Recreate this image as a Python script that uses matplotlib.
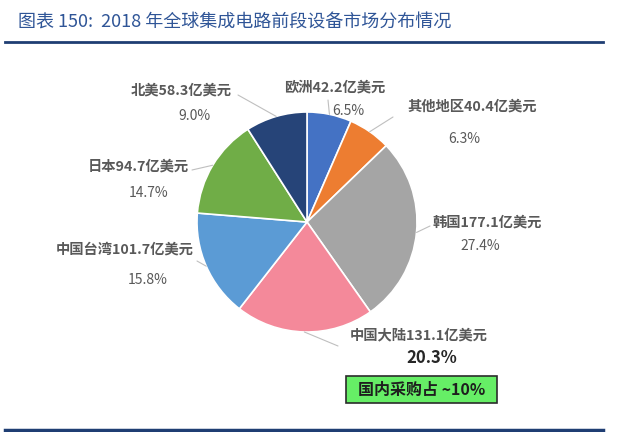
import matplotlib
matplotlib.use('Agg')
import matplotlib.pyplot as plt
import numpy as np
from matplotlib.patches import Rectangle
from matplotlib.lines import Line2D

plt.rcParams['font.family'] = ['Noto Sans CJK SC', 'DejaVu Sans']

# ---- data ----
regions = ['欧洲', '其他地区', '韩国', '中国大陆', '中国台湾', '日本', '北美']
values = [42.2, 40.4, 177.1, 131.1, 101.7, 94.7, 58.3]
percents = ['6.5%', '6.3%', '27.4%', '20.3%', '15.8%', '14.7%', '9.0%']
unit = '亿美元'
title = '图表 150:  2018 年全球集成电路前段设备市场分布情况'
note = '国内采购占 ~10%'

colors = ['#4472C4', '#ED7D31', '#A5A5A5', '#F4899A', '#5B9BD5', '#70AD47', '#264478']

W, H = 640, 432
fig = plt.figure(figsize=(6.4, 4.32), dpi=100)
fig.patch.set_facecolor('white')

def fx(px):
    return px / W

def fy(py):
    return 1 - py / H

cx, cy, r = 307, 222, 110
ax = fig.add_axes([(cx - r) / W, (H - cy - r) / H, 2 * r / W, 2 * r / H])
wedges, _ = ax.pie(values, colors=colors, startangle=90, counterclock=False,
                   radius=1, wedgeprops=dict(edgecolor='white', linewidth=1.2))
ax.set_xlim(-1, 1)
ax.set_ylim(-1, 1)
ax.set_aspect('equal')
ax.axis('off')

# label layout (pixel positions): name centre, percent centre, leader end
layout = [
    ((335, 88), (348, 111), (328, 100)),
    ((472, 107), (464, 139), (393, 117)),
    ((487, 223), (480, 246), (430, 226)),
    ((419, 335), (432, 358), (338, 346)),
    ((125, 250), (148, 280), (197, 261)),
    ((138, 167), (149, 193), (192, 170)),
    ((181, 91), (194, 116), (238, 95)),
]

for i, (w, (npos, ppos, lend)) in enumerate(zip(wedges, layout)):
    ang = np.deg2rad((w.theta1 + w.theta2) / 2)
    ax.annotate('', xy=(np.cos(ang), np.sin(ang)), xycoords='data',
                xytext=(fx(lend[0]), fy(lend[1])), textcoords='figure fraction',
                arrowprops=dict(arrowstyle='-', color='#BFBFBF', lw=0.8,
                                shrinkA=0, shrinkB=0),
                annotation_clip=False)
    fig.text(fx(npos[0]), fy(npos[1]), f'{regions[i]}{values[i]:.1f}{unit}',
             ha='center', va='center', fontsize=10.3, fontweight='bold',
             color='#595959')
    if regions[i] == '中国大陆':
        fig.text(fx(ppos[0]), fy(ppos[1]), percents[i], ha='center', va='center',
                 fontsize=12, fontweight='bold', color='#262626')
    else:
        fig.text(fx(ppos[0]), fy(ppos[1]), percents[i], ha='center', va='center',
                 fontsize=10, color='#595959')

# green note box
box = Rectangle((fx(346), fy(403)), fx(497) - fx(346), fy(376) - fy(403),
                transform=fig.transFigure, facecolor='#66EE66',
                edgecolor='#2B2B2B', linewidth=1.2)
fig.patches.append(box)
fig.text(fx(421.5), fy(390), note, ha='center', va='center', fontsize=11.5,
         fontweight='bold', color='#1E1E1E')

# title and rules
fig.text(fx(18), fy(23), title, ha='left', va='center', fontsize=13,
         style='italic', color='#2F5597')
fig.lines.append(Line2D([fx(5), fx(603)], [fy(42), fy(42)],
                        transform=fig.transFigure, color='#1F3E73', lw=2))
fig.lines.append(Line2D([fx(5), fx(603)], [fy(430), fy(430)],
                        transform=fig.transFigure, color='#1F3E73', lw=2.5))

fig.savefig('out.png', dpi=100)
